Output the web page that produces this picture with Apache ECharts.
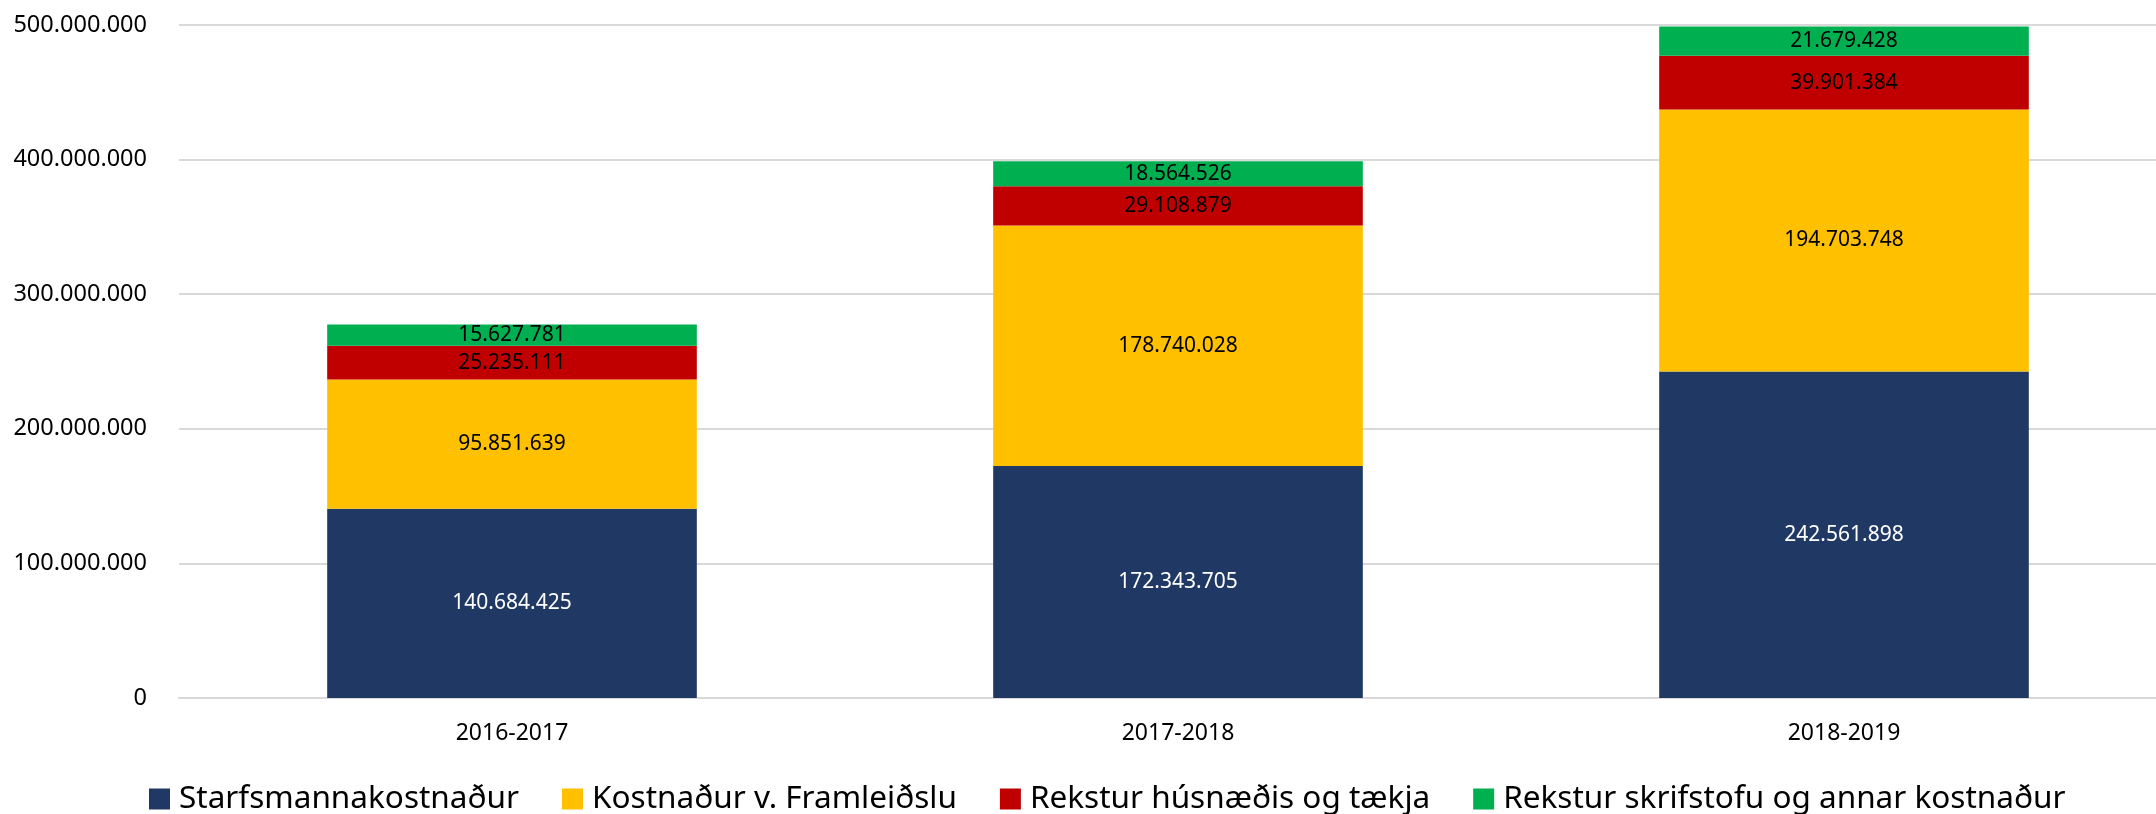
<!DOCTYPE html>
<html>
<head>
<meta charset="utf-8">
<script src="https://cdn.jsdelivr.net/npm/echarts@6/dist/echarts.min.js"></script>
<style>
  html, body { margin: 0; padding: 0; background: #fff; overflow: hidden; }
  #main { width: 2177px; height: 814px; }
</style>
</head>
<body>
<div id="main"></div>
<script>
// ár (x-ás)
var years = ['2016-2017', '2017-2018', '2018-2019'];

// kostnaðarliðir
var starfsmenn = [140684425, 172343705, 242561898];
var framleidsla = [95851639, 178740028, 194703748];
var husnaedi = [25235111, 29108879, 39901384];
var skrifstofa = [15627781, 18564526, 21679428];

var seriesNames = [
  'Starfsmannakostnaður',
  'Kostnaður v. Framleiðslu',
  'Rekstur húsnæðis og tækja',
  'Rekstur skrifstofu og annar kostnaður'
];
var colors = ['#203864', '#FFC000', '#C00000', '#00B050'];

var font = 'Noto Sans';

function fmt(v) {
  return String(Math.round(v)).replace(/\B(?=(\d{3})+(?!\d))/g, '.');
}

function makeSeries(name, data, color, labelColor) {
  return {
    name: name,
    type: 'bar',
    stack: 'total',
    barWidth: '55.5%',
    data: data,
    itemStyle: { color: color },
    label: {
      show: true,
      position: 'inside',
      color: labelColor,
      fontFamily: font,
      fontSize: 21,
      formatter: function (p) { return fmt(p.value); }
    },
    emphasis: { disabled: true }
  };
}

var chartDom = document.getElementById('main');
var myChart = echarts.init(chartDom);

// plotið nær aðeins út fyrir hægri brún myndarinnar, eins og í frumritinu
var option = {
  animation: false,
  color: colors,
  grid: {
    left: 179,
    top: 25,
    right: 0,
    height: 673,
    containLabel: false
  },
  legend: {
    left: 144,
    top: 778,
    itemWidth: 21,
    itemHeight: 21,
    itemGap: 43,
    icon: 'rect',
    textStyle: { fontFamily: font, fontSize: 31.5, color: '#000', padding: [0, 0, 0, 4] },
    data: seriesNames
  },
  xAxis: {
    type: 'category',
    data: years,
    axisLine: { lineStyle: { color: '#d9d9d9', width: 2 } },
    axisTick: { show: false },
    axisLabel: { color: '#000', fontFamily: font, fontSize: 23, margin: 24 }
  },
  yAxis: {
    type: 'value',
    min: 0,
    max: 500000000,
    interval: 100000000,
    axisLine: { show: false },
    axisTick: { show: false },
    splitLine: { lineStyle: { color: '#d9d9d9', width: 2 } },
    axisLabel: {
      color: '#000',
      fontFamily: font,
      fontSize: 23.5,
      margin: 32,
      formatter: function (v) { return fmt(v); }
    }
  },
  series: [
    makeSeries(seriesNames[0], starfsmenn, colors[0], '#fff'),
    makeSeries(seriesNames[1], framleidsla, colors[1], '#000'),
    makeSeries(seriesNames[2], husnaedi, colors[2], '#000'),
    makeSeries(seriesNames[3], skrifstofa, colors[3], '#000')
  ]
};

myChart.setOption(option);
</script>
</body>
</html>
